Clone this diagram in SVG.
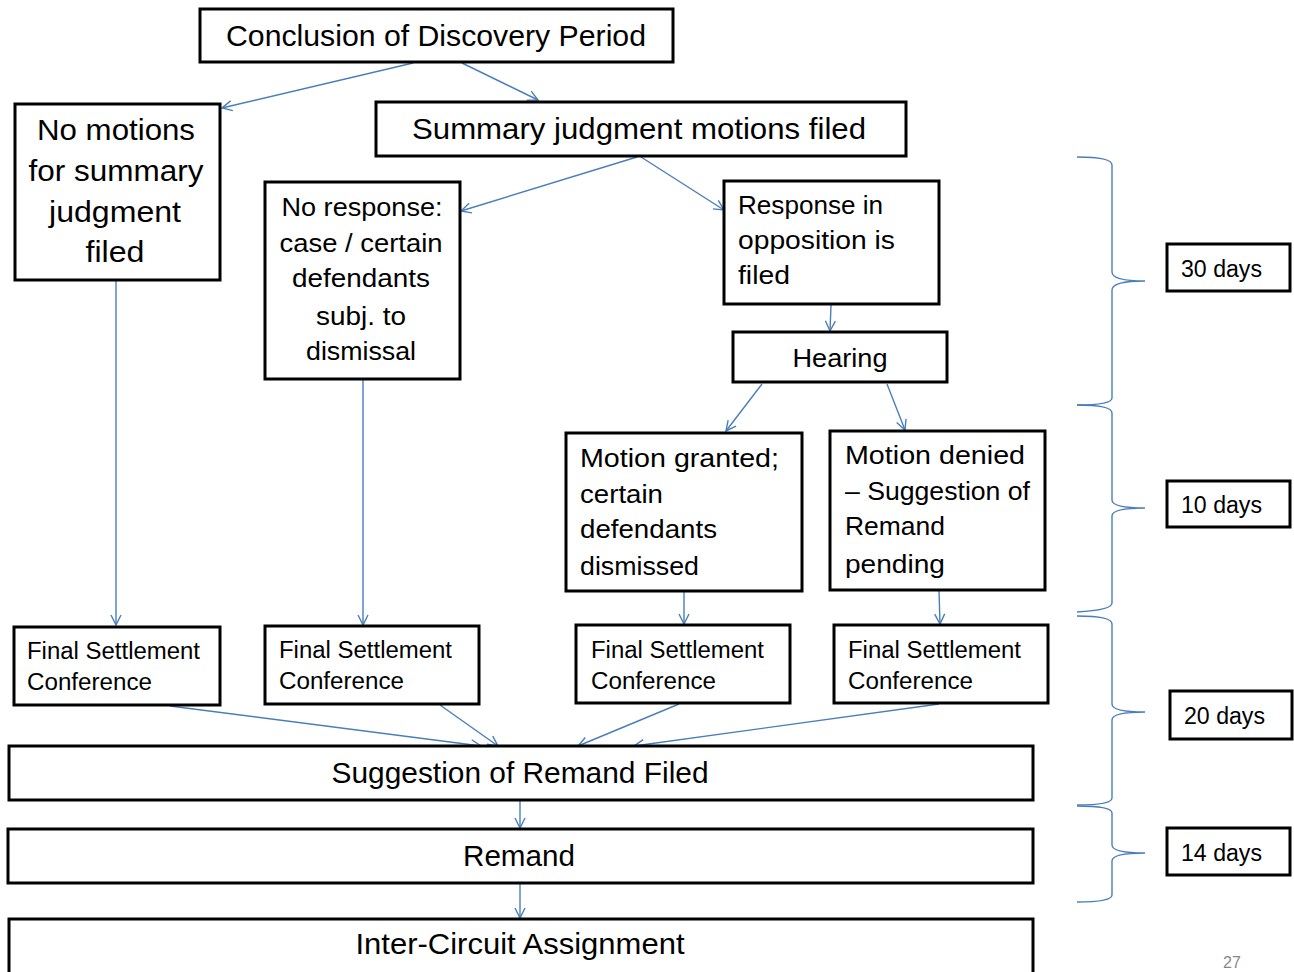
<svg xmlns="http://www.w3.org/2000/svg" width="1294" height="972" viewBox="0 0 1294 972">
<style>
.box{fill:#fff;stroke:#000;stroke-width:3}
.t{font-family:"Liberation Sans",Arial,sans-serif;fill:#000}
.L{font-size:30px}
.M{font-size:26.5px}
.S{font-size:23px}
.c{text-anchor:middle}
.con{fill:none;stroke:#4A7EBB;stroke-width:1.4}
.br{fill:none;stroke:#4A7EBB;stroke-width:1.4}
</style>
<defs>
<marker id="ah" markerUnits="userSpaceOnUse" markerWidth="14" markerHeight="14" refX="11" refY="6" orient="auto">
<path d="M1,1 L11,6 L1,11" fill="none" stroke="#4A7EBB" stroke-width="1.4"/>
</marker>
</defs>
<rect width="1294" height="972" fill="#fff"/>

<g id="connectors">
<line class="con" x1="413" y1="63" x2="222" y2="108" marker-end="url(#ah)"/>
<line class="con" x1="462" y1="63" x2="538" y2="100" marker-end="url(#ah)"/>
<line class="con" x1="116" y1="281" x2="116" y2="625" marker-end="url(#ah)"/>
<line class="con" x1="637" y1="157" x2="461" y2="211" marker-end="url(#ah)"/>
<line class="con" x1="641" y1="157" x2="724" y2="210" marker-end="url(#ah)"/>
<line class="con" x1="363" y1="380" x2="363" y2="625" marker-end="url(#ah)"/>
<line class="con" x1="831" y1="305" x2="830" y2="331" marker-end="url(#ah)"/>
<line class="con" x1="762" y1="384" x2="726" y2="431" marker-end="url(#ah)"/>
<line class="con" x1="887" y1="384" x2="905" y2="430" marker-end="url(#ah)"/>
<line class="con" x1="684" y1="592" x2="684" y2="624" marker-end="url(#ah)"/>
<line class="con" x1="939" y1="591" x2="940" y2="624" marker-end="url(#ah)"/>
<line class="con" x1="170" y1="706" x2="481" y2="746" marker-end="url(#ah)"/>
<line class="con" x1="440" y1="705" x2="498" y2="746" marker-end="url(#ah)"/>
<line class="con" x1="679" y1="704" x2="578" y2="746" marker-end="url(#ah)"/>
<line class="con" x1="939" y1="704" x2="634" y2="746" marker-end="url(#ah)"/>
<line class="con" x1="520" y1="801" x2="520" y2="828" marker-end="url(#ah)"/>
<line class="con" x1="520" y1="884" x2="520" y2="918" marker-end="url(#ah)"/>
</g>

<g id="braces">
<path class="br" d="M1077,157 Q1112,157 1112,165 L1112,272 Q1112,281 1145,281 Q1112,281 1112,290 L1112,398 Q1112,405 1077,405"/>
<path class="br" d="M1077,405 Q1112,405 1112,413 L1112,500 Q1112,508 1145,508 Q1112,508 1112,516 L1112,603 Q1112,610 1077,612"/>
<path class="br" d="M1077,616 Q1112,616 1112,624 L1112,704 Q1112,712 1145,712 Q1112,712 1112,720 L1112,798 Q1112,805 1077,805"/>
<path class="br" d="M1077,806 Q1112,806 1112,813 L1112,845 Q1112,853 1145,853 Q1112,853 1112,861 L1112,895 Q1112,902 1077,902"/>
</g>

<g id="n-conclusion">
<rect class="box" x="200" y="9" width="473" height="53"/>
<text class="t L c" x="436" y="46" textLength="420" lengthAdjust="spacingAndGlyphs">Conclusion of Discovery Period</text>
</g>

<g id="n-nomotions">
<rect class="box" x="15" y="104" width="205" height="176"/>
<text class="t L c" x="116" y="140" textLength="158" lengthAdjust="spacingAndGlyphs">No motions</text>
<text class="t L c" x="116" y="181" textLength="175" lengthAdjust="spacingAndGlyphs">for summary</text>
<text class="t L c" x="115" y="222" textLength="132" lengthAdjust="spacingAndGlyphs">judgment</text>
<text class="t L c" x="115" y="262" textLength="59" lengthAdjust="spacingAndGlyphs">filed</text>
</g>

<g id="n-summary">
<rect class="box" x="376" y="102" width="530" height="54"/>
<text class="t L c" x="639" y="139" textLength="454" lengthAdjust="spacingAndGlyphs">Summary judgment motions filed</text>
</g>

<g id="n-noresponse">
<rect class="box" x="265" y="182" width="195" height="197"/>
<text class="t M c" x="362" y="216" textLength="161" lengthAdjust="spacingAndGlyphs">No response:</text>
<text class="t M c" x="361" y="252" textLength="163" lengthAdjust="spacingAndGlyphs">case / certain</text>
<text class="t M c" x="361" y="287" textLength="138" lengthAdjust="spacingAndGlyphs">defendants</text>
<text class="t M c" x="361" y="325" textLength="90" lengthAdjust="spacingAndGlyphs">subj. to</text>
<text class="t M c" x="361" y="360" textLength="110" lengthAdjust="spacingAndGlyphs">dismissal</text>
</g>

<g id="n-response">
<rect class="box" x="724" y="181" width="215" height="123"/>
<text class="t M" x="738" y="214" textLength="145" lengthAdjust="spacingAndGlyphs">Response in</text>
<text class="t M" x="738" y="249" textLength="157" lengthAdjust="spacingAndGlyphs">opposition is</text>
<text class="t M" x="738" y="284" textLength="52" lengthAdjust="spacingAndGlyphs">filed</text>
</g>

<g id="n-hearing">
<rect class="box" x="733" y="332" width="214" height="50"/>
<text class="t M c" x="840" y="367" textLength="95" lengthAdjust="spacingAndGlyphs">Hearing</text>
</g>

<g id="n-granted">
<rect class="box" x="566" y="433" width="236" height="158"/>
<text class="t M" x="580" y="467" textLength="199" lengthAdjust="spacingAndGlyphs">Motion granted;</text>
<text class="t M" x="580" y="503" textLength="83" lengthAdjust="spacingAndGlyphs">certain</text>
<text class="t M" x="580" y="538" textLength="137" lengthAdjust="spacingAndGlyphs">defendants</text>
<text class="t M" x="580" y="575" textLength="119" lengthAdjust="spacingAndGlyphs">dismissed</text>
</g>

<g id="n-denied">
<rect class="box" x="830" y="431" width="215" height="159"/>
<text class="t M" x="845" y="464" textLength="180" lengthAdjust="spacingAndGlyphs">Motion denied</text>
<text class="t M" x="845" y="500" textLength="185" lengthAdjust="spacingAndGlyphs">– Suggestion of</text>
<text class="t M" x="845" y="535" textLength="100" lengthAdjust="spacingAndGlyphs">Remand</text>
<text class="t M" x="845" y="573" textLength="100" lengthAdjust="spacingAndGlyphs">pending</text>
</g>

<g id="n-fsc1">
<rect class="box" x="14" y="627" width="206" height="78"/>
<text class="t S" x="27" y="659" textLength="173" lengthAdjust="spacingAndGlyphs">Final Settlement</text>
<text class="t S" x="27" y="690" textLength="125" lengthAdjust="spacingAndGlyphs">Conference</text>
</g>
<g id="n-fsc2">
<rect class="box" x="265" y="626" width="214" height="78"/>
<text class="t S" x="279" y="658" textLength="173" lengthAdjust="spacingAndGlyphs">Final Settlement</text>
<text class="t S" x="279" y="689" textLength="125" lengthAdjust="spacingAndGlyphs">Conference</text>
</g>
<g id="n-fsc3">
<rect class="box" x="576" y="625" width="214" height="78"/>
<text class="t S" x="591" y="658" textLength="173" lengthAdjust="spacingAndGlyphs">Final Settlement</text>
<text class="t S" x="591" y="689" textLength="125" lengthAdjust="spacingAndGlyphs">Conference</text>
</g>
<g id="n-fsc4">
<rect class="box" x="834" y="625" width="214" height="78"/>
<text class="t S" x="848" y="658" textLength="173" lengthAdjust="spacingAndGlyphs">Final Settlement</text>
<text class="t S" x="848" y="689" textLength="125" lengthAdjust="spacingAndGlyphs">Conference</text>
</g>

<g id="n-suggestion">
<rect class="box" x="9" y="746" width="1024" height="54"/>
<text class="t L c" x="520" y="783" textLength="377" lengthAdjust="spacingAndGlyphs">Suggestion of Remand Filed</text>
</g>
<g id="n-remand">
<rect class="box" x="8" y="829" width="1025" height="54"/>
<text class="t L c" x="519" y="866" textLength="112" lengthAdjust="spacingAndGlyphs">Remand</text>
</g>
<g id="n-intercircuit">
<rect class="box" x="9" y="919" width="1024" height="58"/>
<text class="t L c" x="520" y="954" textLength="329" lengthAdjust="spacingAndGlyphs">Inter-Circuit Assignment</text>
</g>

<g id="d30">
<rect class="box" x="1167" y="244" width="123" height="47"/>
<text class="t S" x="1181" y="277" textLength="81" lengthAdjust="spacingAndGlyphs">30 days</text>
</g>
<g id="d10">
<rect class="box" x="1167" y="481" width="123" height="46"/>
<text class="t S" x="1181" y="513" textLength="81" lengthAdjust="spacingAndGlyphs">10 days</text>
</g>
<g id="d20">
<rect class="box" x="1170" y="691" width="122" height="48"/>
<text class="t S" x="1184" y="724" textLength="81" lengthAdjust="spacingAndGlyphs">20 days</text>
</g>
<g id="d14">
<rect class="box" x="1167" y="828" width="123" height="47"/>
<text class="t S" x="1181" y="861" textLength="81" lengthAdjust="spacingAndGlyphs">14 days</text>
</g>

<text class="t" x="1232" y="968" font-size="16" fill="#888" style="fill:#888" text-anchor="middle">27</text>
</svg>
